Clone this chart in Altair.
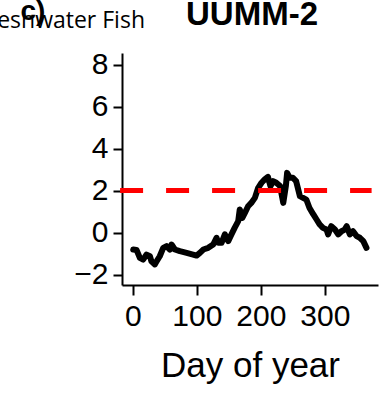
import altair as alt
import pandas as pd

# Black series (day of year, value)
days = [0.5, 5.7, 10.9, 16, 21.4, 26.6, 29, 34.4, 37, 42, 47.4, 52.6, 57.8, 60.4, 65.6,
        73.4, 84, 94, 99.5, 104.7, 110, 117.7, 125.5, 130.7, 133.3, 138.5, 143.7, 149,
        154, 159, 164.6, 167, 171, 175, 180, 185, 190.6, 195.8, 201, 206, 211, 215, 219,
        224, 230, 235, 239, 241, 245, 250, 255, 261, 266, 271, 276, 282, 287, 292, 297,
        302.6, 305, 310, 315.7, 321, 326, 331, 334, 339, 344, 349.5, 354.7, 360, 365]
values = [-0.81, -0.83, -1.21, -1.29, -1.05, -1.13, -1.37, -1.52, -1.37, -1.13, -0.73,
          -0.65, -0.81, -0.57, -0.81, -0.89, -0.97, -1.05, -1.10, -0.97, -0.81, -0.73,
          -0.57, -0.25, -0.49, -0.49, -0.09, -0.41, -0.09, 0.22, 0.54, 1.10, 0.70, 0.94,
          1.25, 1.41, 1.65, 2.13, 2.37, 2.53, 2.65, 2.21, 2.45, 2.37, 2.21, 1.41, 2.21,
          2.84, 2.61, 2.61, 2.45, 1.73, 1.65, 1.57, 1.17, 0.86, 0.62, 0.38, 0.22, 0.14,
          -0.09, 0.30, 0.14, -0.09, 0.06, 0.14, 0.30, -0.09, 0.06, -0.17, -0.25, -0.41,
          -0.73]

threshold_y = [2]
threshold_x = [-20]
threshold_x2 = [373]

x_ticks = [0, 100, 200, 300]
y_ticks = [-2, 0, 2, 4, 6, 8]

title_text = "UUMM-2"
group_text = "Freshwater Fish"
panel_text = "c)"
x_title = "Day of year"

df = pd.DataFrame({"day": days, "value": values})
thr = pd.DataFrame({"x": threshold_x, "x2": threshold_x2, "y": threshold_y})

FONT = "Liberation Sans"

xscale = alt.Scale(domain=[-17, 383], nice=False, zero=False)
yscale = alt.Scale(domain=[-2.5, 8.55], nice=False, zero=False)

line = alt.Chart(df).mark_line(
    color="black", strokeWidth=6, strokeJoin="round", strokeCap="round", clip=False
).encode(
    x=alt.X("day:Q", scale=xscale,
            axis=alt.Axis(values=x_ticks, title=x_title, tickSize=10, labelPadding=6,
                          titlePadding=17, labelFontSize=30, titleFontSize=35,
                          titleFontWeight="normal")),
    y=alt.Y("value:Q", scale=yscale,
            axis=alt.Axis(values=y_ticks, title=None, tickSize=9, labelPadding=5,
                          labelFontSize=30)),
)

rule = alt.Chart(thr).mark_rule(
    color="#ff0000", strokeWidth=5, strokeDash=[23, 23]
).encode(
    x="x:Q", x2="x2:Q", y="y:Q"
)

title_mark = alt.Chart(pd.DataFrame({"t": [title_text]})).mark_text(
    font=FONT, fontSize=33, fontWeight="bold", align="center", baseline="alphabetic",
    color="black"
).encode(x=alt.value(130), y=alt.value(-28), text="t:N")

group_mark = alt.Chart(pd.DataFrame({"t": [group_text]})).mark_text(
    font="Open Sans", fontSize=23, align="right", baseline="alphabetic", color="black"
).encode(x=alt.value(23), y=alt.value(-25), text="t:N")

panel_mark = alt.Chart(pd.DataFrame({"t": [panel_text]})).mark_text(
    font=FONT, fontSize=28, fontWeight="bold", align="center", baseline="alphabetic",
    color="black"
).encode(x=alt.value(-89), y=alt.value(-33), text="t:N")

chart = alt.layer(line, rule, title_mark, group_mark, panel_mark).properties(
    width=256, height=232,
    autosize=alt.AutoSizeParams(type="none"),
    padding={"left": 122, "top": 53, "right": 3, "bottom": 108},
).configure_axis(
    grid=False, domainColor="black", domainWidth=2, tickColor="black", tickWidth=2,
    labelColor="black", titleColor="black", labelFont=FONT, titleFont=FONT,
).configure_view(stroke=None)

chart.save("out.html", embed_options={"renderer": "svg", "actions": False})
